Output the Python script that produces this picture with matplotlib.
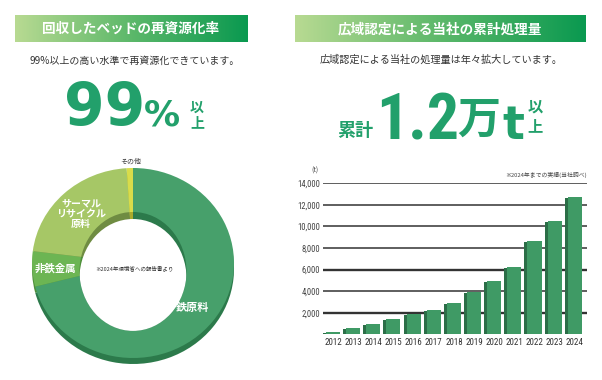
import numpy as np
import matplotlib
matplotlib.use("Agg")
import matplotlib.pyplot as plt
from matplotlib.patches import Ellipse

plt.rcParams['font.family'] = ['Noto Sans CJK JP', 'DejaVu Sans']

# ---------------- data ----------------
donut_labels = ["鉄原料", "非鉄金属", "サーマル\nリサイクル\n原料", "その他"]
donut_values = [71, 6, 22, 1]
donut_top_colors = ["#47a06b", "#6cb553", "#a6c766", "#d8dc4a"]
donut_side_colors = ["#2c7a4b", "#4e8f3a", "#6f8c42", "#a9aa2c"]

years = ["2012", "2013", "2014", "2015", "2016", "2017", "2018",
         "2019", "2020", "2021", "2022", "2023", "2024"]
amounts = [180, 550, 920, 1380, 1850, 2280, 2930,
           3890, 4900, 6270, 8650, 10500, 12730]
yticks = [2000, 4000, 6000, 8000, 10000, 12000, 14000]

W, H = 602, 380
fig = plt.figure(figsize=(W / 100, H / 100), dpi=100)
fig.patch.set_facecolor("white")

def px_axes(x0, y0, x1, y1, **kw):
    return fig.add_axes([x0 / W, (H - y1) / H, (x1 - x0) / W, (y1 - y0) / H], **kw)

GREEN = "#22a06b"
COND = ["Roboto Condensed", "Roboto"]

# ---------------- donut ----------------
axd = px_axes(32, 168, 234, 364)
axd.axis("off")
d_out = 6 / 95
axd.pie(donut_values, colors=donut_side_colors, radius=1, center=(0, -d_out),
        startangle=90, counterclock=False, wedgeprops=dict(linewidth=0))
axd.pie(donut_values, colors=donut_top_colors, radius=1, center=(0, 0),
        startangle=90, counterclock=False, wedgeprops=dict(linewidth=0))
hole_c = -0.089
hole_w, hole_h = 1.06, 1.252
clip_e = Ellipse((0, hole_c), hole_w, hole_h, transform=axd.transData)
wedges, _ = axd.pie(donut_values, colors=donut_side_colors, radius=1, center=(0, 0),
                    startangle=90, counterclock=False, wedgeprops=dict(linewidth=0))
for w in wedges:
    w.set_clip_on(True)
    w.set_clip_path(clip_e)
white = Ellipse((0, hole_c - 0.074), hole_w, hole_h, facecolor="white",
                edgecolor="none", transform=axd.transData, zorder=5)
axd.add_patch(white)
white.set_clip_on(True)
white.set_clip_path(clip_e)
axd.set_aspect("auto")
axd.set_xlim(-1, 1)
axd.set_ylim(1 - 196 / 95, 1)

# ---------------- bar chart ----------------
axb = px_axes(322.7, 183.3, 587.3, 334.3)
x = np.arange(len(years))
for t in yticks:
    lw = 1.7 if t in (2000, 6000) else 1.1
    axb.axhline(t, color="#333333", lw=lw, zorder=1)
axb.bar(x - 0.14, np.array(amounts) - 90, width=0.72, color="#2b6e47", zorder=2, linewidth=0)
axb.bar(x, amounts, width=0.70, color="#3f9a65", zorder=3, linewidth=0)
axb.set_xlim(-0.51, 12.62)
axb.set_ylim(0, 14000)
axb.set_yticks(yticks)
axb.set_yticklabels([f"{t:,}" for t in yticks], fontsize=6.2, color="#444444",
                    family=COND)
axb.set_xticks(x)
axb.set_xticklabels(years, fontsize=6.5, color="#333333", family=COND, fontweight="normal")
axb.tick_params(axis="both", length=0)
axb.tick_params(axis="y", pad=2)
axb.tick_params(axis="x", pad=3.0)
for s in axb.spines.values():
    s.set_visible(False)
axb.set_facecolor("none")

# ---------------- overlay: banners & text ----------------
ax = fig.add_axes([0, 0, 1, 1], zorder=10)
ax.axis("off")
ax.patch.set_alpha(0)

grad = np.linspace(0, 1, 256).reshape(1, -1)
cmap = matplotlib.colors.LinearSegmentedColormap.from_list("g", ["#b8da92", "#5cb86a", "#0a9950"])
ax.imshow(grad, cmap=cmap, extent=(15, 248, 42, 15), aspect="auto", zorder=1)
ax.imshow(grad, cmap=cmap, extent=(295, 586, 42, 15), aspect="auto", zorder=1)
ax.set_xlim(0, W)
ax.set_ylim(H, 0)

ax.text(131, 29, "回収したベッドの再資源化率", color="white", fontsize=9.8,
        fontweight="bold", ha="center", va="center", zorder=2)
ax.text(440, 29, "広域認定による当社の累計処理量", color="white", fontsize=9.8,
        fontweight="bold", ha="center", va="center", zorder=2)

ax.text(135, 61, "99%以上の高い水準で再資源化できています。", color="#333333",
        fontsize=7.2, ha="center", va="center")
ax.text(441, 60, "広域認定による当社の処理量は年々拡大しています。", color="#333333",
        fontsize=7.3, ha="center", va="center")

# big numbers left
ax.text(64, 125, "99", color=GREEN, fontsize=42, fontweight="heavy",
        family=["DejaVu Sans"], ha="left", va="baseline")
ax.text(144, 126, "%", color=GREEN, fontsize=26, fontweight="heavy",
        family=["DejaVu Sans"], ha="left", va="baseline")
ax.text(197, 108, "以", color=GREEN, fontsize=10, fontweight="bold", ha="center", va="center")
ax.text(197, 123, "上", color=GREEN, fontsize=10, fontweight="bold", ha="center", va="center")

# big numbers right
ax.text(355, 130, "累計", color=GREEN, fontsize=13, fontweight="bold", ha="center", va="center")
ax.text(376, 139, "1.2", color=GREEN, fontsize=46, fontweight="bold",
        family=COND, ha="left", va="baseline")
ax.text(479, 120, "万", color=GREEN, fontsize=31, fontweight="bold", ha="center", va="center")
ax.text(502, 139, "t", color=GREEN, fontsize=33, fontweight="bold",
        family=["DejaVu Sans"], ha="left", va="baseline")
ax.text(535, 107, "以", color=GREEN, fontsize=11, fontweight="bold", ha="center", va="center")
ax.text(535, 126, "上", color=GREEN, fontsize=11, fontweight="bold", ha="center", va="center")

# donut labels
ax.text(193, 307, donut_labels[0], color="white", fontsize=8, fontweight="bold",
        ha="center", va="center")
ax.text(55, 268, donut_labels[1], color="white", fontsize=7.5, fontweight="bold",
        ha="center", va="center")
ax.text(81, 214, donut_labels[2], color="white", fontsize=7.2, fontweight="bold",
        ha="center", va="center", linespacing=1.05)
ax.text(131, 162, donut_labels[3], color="#333333", fontsize=5, ha="center", va="center")
ax.text(134, 268, "※2024年環境省への報告書より", color="#333333", fontsize=4,
        ha="center", va="center")

# bar chart annotations
ax.text(315, 171, "(t)", color="#444444", fontsize=5, ha="center", va="center")
ax.text(587, 175, "※2024年までの実績(当社調べ)", color="#444444", fontsize=4.2,
        ha="right", va="center")

fig.savefig("out.png", dpi=100, facecolor="white")
